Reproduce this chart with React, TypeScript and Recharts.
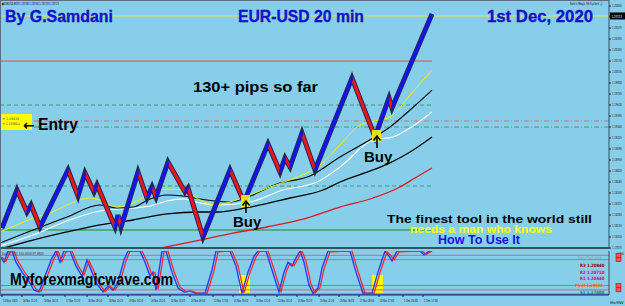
import React from 'react';
import { ComposedChart, Line, XAxis, YAxis, ReferenceLine, ReferenceDot, ReferenceArea } from 'recharts';

// ---------- price (zigzag / renko-like swings) ----------
const pivotBar = [2, 17, 27, 31, 40, 68, 78, 85, 94, 97, 115, 118, 121, 138, 147, 152, 156, 168, 185, 188, 203, 230, 244, 268, 280, 285, 290, 302, 315, 352, 375, 389, 392, 432];
const pivotPrice = [1.18121, 1.18587, 1.18317, 1.18403, 1.18133, 1.18833, 1.18514, 1.18796, 1.18563, 1.18649, 1.18133, 1.18280, 1.18133, 1.18808, 1.18489, 1.18624, 1.18501, 1.18931, 1.18563, 1.18612, 1.18010, 1.18833, 1.18440, 1.19152, 1.18808, 1.18980, 1.18869, 1.19287, 1.18833, 1.19962, 1.19238, 1.19716, 1.19594, 1.20747];

// ---------- moving averages ----------
const yellowBar = [0, 17, 33, 50, 67, 90, 100, 117, 133, 150, 167, 183, 200, 215, 230, 250, 270, 290, 300, 320, 340, 360, 375, 390, 410, 432];
const yellowPrice = [1.18072, 1.18158, 1.18243, 1.18305, 1.18403, 1.18489, 1.18464, 1.18378, 1.18428, 1.18538, 1.18599, 1.18587, 1.18464, 1.18403, 1.18440, 1.18526, 1.18624, 1.18710, 1.18759, 1.18894, 1.19139, 1.19385, 1.19434, 1.19483, 1.19753, 1.20060];

const blackUpBar = [0, 33, 67, 100, 117, 133, 150, 167, 183, 200, 215, 230, 250, 277, 310, 340, 373, 390, 410, 432];
const blackUpPrice = [1.17937, 1.18096, 1.18256, 1.18403, 1.18366, 1.18378, 1.18477, 1.18526, 1.18513, 1.18477, 1.18452, 1.18440, 1.18513, 1.18661, 1.18759, 1.18992, 1.19225, 1.19360, 1.19569, 1.19814];

const whiteBar = [0, 33, 67, 100, 133, 150, 167, 183, 200, 217, 250, 283, 317, 340, 373, 393, 410, 432];
const whitePrice = [1.17900, 1.18035, 1.18207, 1.18329, 1.18366, 1.18391, 1.18452, 1.18477, 1.18428, 1.18403, 1.18440, 1.18587, 1.18685, 1.18869, 1.19201, 1.19238, 1.19348, 1.19544];

const blackLowBar = [0, 33, 67, 100, 133, 167, 200, 217, 250, 290, 323, 340, 373, 390, 410, 432];
const blackLowPrice = [1.17863, 1.17973, 1.18072, 1.18158, 1.18219, 1.18293, 1.18317, 1.18317, 1.18378, 1.18489, 1.18587, 1.18685, 1.18833, 1.18919, 1.19053, 1.19238];

const redMaBar = [160, 200, 233, 267, 300, 340, 373, 398, 415, 432];
const redMaPrice = [1.17875, 1.17973, 1.18059, 1.18133, 1.18219, 1.18378, 1.18489, 1.18612, 1.18734, 1.18857];

// ---------- levels ----------
const currentPrice = 1.20723;
const levelToLastBar = [1.20170, 1.19630, 1.18636, 1.18096];
const levelFullWidth = [1.19434, 1.19360];
const lastBar = 432;

// ---------- buy signals ----------
const buyBar = [244, 375];
const buyPrice = [1.18440, 1.19238];

// ---------- axis ticks ----------
const priceTicks = [1.20845, 1.20710, 1.20575, 1.20440, 1.20305, 1.20170, 1.20035, 1.19900, 1.19765, 1.19630, 1.19495, 1.19360, 1.19225, 1.19090, 1.18955, 1.18820, 1.18685, 1.18550, 1.18415, 1.18280, 1.18145, 1.18010, 1.17875];
const timeTicks = [2, 22, 43, 65, 87, 108, 128, 150, 170, 190, 213, 233, 255, 277, 297, 319, 339, 359, 379, 403, 423];
const timeLabels = ['13 Nov 2020', '16 Nov 11:20', '16 Nov 18:20', '17 Nov 13:20', '18 Nov 09:20', '18 Nov 15:20', '19 Nov 10:20', '19 Nov 20:20', '20 Nov 10:20', '23 Nov 09:40', '23 Nov 17:00', '24 Nov 05:40', '24 Nov 13:20', '24 Nov 20:20', '25 Nov 10:20', '25 Nov 22:20', '26 Nov 16:00', '27 Nov 09:00', '30 Nov 17:00', '1 Dec 05:00', '1 Dec 17:00'];

// ---------- oscillator ----------
const oscBlueBar = [0, 4, 8, 12, 16, 22, 28, 34, 39, 45, 52, 56, 60, 64, 70, 76, 82, 87, 92, 97, 103, 108, 113, 118, 124, 128, 140, 145, 150, 153, 156, 162, 166, 172, 178, 184, 190, 196, 205, 212, 216, 230, 236, 242, 248, 254, 258, 266, 272, 279, 284, 288, 292, 296, 300, 304, 309, 313, 318, 322, 328, 350, 356, 363, 372, 378, 385, 389, 392, 397, 420, 424, 428, 432];
const oscBlue = [88, 74, 100, 100, 74, 51, 33, 9, 5, 42, 84, 100, 74, 100, 100, 65, 42, 79, 51, 23, 5, 19, 9, 28, 79, 100, 100, 74, 42, 51, 9, 100, 100, 51, 14, 5, 7, 2, 2, 56, 100, 100, 65, 2, 51, 88, 100, 100, 56, 5, 51, 74, 65, 84, 100, 74, 21, 2, 14, 60, 100, 100, 51, 2, 2, 51, 100, 88, 77, 100, 100, 91, 98, 100];
const oscRedBar = [2, 6, 10, 14, 18, 24, 30, 36, 41, 47, 54, 58, 62, 66, 72, 78, 84, 89, 94, 99, 105, 110, 115, 120, 126, 130, 142, 147, 152, 155, 158, 164, 168, 174, 180, 186, 192, 198, 207, 214, 218, 232, 238, 244, 250, 256, 260, 268, 274, 281, 286, 290, 294, 298, 302, 306, 311, 315, 320, 324, 330, 352, 358, 365, 374, 380, 387, 391, 394, 399, 422, 426, 430, 432];
const oscRed = [86, 76, 98, 100, 76, 53, 35, 11, 6, 40, 82, 100, 76, 98, 100, 66, 44, 77, 53, 25, 6, 18, 10, 27, 77, 100, 100, 76, 44, 50, 11, 98, 100, 53, 16, 6, 7, 2, 2, 54, 98, 100, 66, 3, 50, 86, 100, 100, 58, 6, 50, 72, 66, 82, 100, 76, 23, 3, 15, 58, 98, 100, 53, 2, 2, 50, 98, 89, 79, 98, 100, 92, 97, 100];
const oscLevels = [90, 80, 20, 10];
const oscHighlightBar = [[239, 250], [372, 383]];

// ---------- derived tables ----------
const series = (bars: number[], vals: number[]) => bars.map((b, i) => ({ bar: b, v: vals[i] }));
type ZRow = { bar: number; up?: number; down?: number };
const zigRows: ZRow[] = [];
for (let i = 0; i < pivotBar.length - 1; i++) {
  const key = pivotPrice[i + 1] > pivotPrice[i] ? 'up' : 'down';
  zigRows.push({ bar: pivotBar[i], [key]: pivotPrice[i] } as ZRow);
  zigRows.push({ bar: pivotBar[i + 1], [key]: pivotPrice[i + 1] } as ZRow);
}
const pivotRows = series(pivotBar, pivotPrice);

const SANS = 'Liberation Sans, Arial, sans-serif';
const TINY = 'DejaVu Sans, sans-serif';

// tiny text squeezed horizontally to a target width
const Tiny = ({ x, y, w, size, fill = '#111', weight = 'normal', children }: any) => {
  const s = String(children);
  const natural = s.length * 0.6 * size;
  const sx = Math.min(1, w / natural);
  return (
    <text transform={`translate(${x},${y}) scale(${sx.toFixed(3)},1)`} fontSize={size} fill={fill} fontWeight={weight} fontFamily={TINY}>
      {s}
    </text>
  );
};

const PriceTick = (props: any) => {
  const { x, y, payload } = props;
  const v = payload.value as number;
  if (v === currentPrice) {
    return (
      <g>
        <rect x={x - 2} y={y - 3.5} width={15} height={7} fill="#000" />
        <Tiny x={x - 0.5} y={y + 1.7} w={10.5} size={4.3} fill="#fff">{v.toFixed(5)}</Tiny>
      </g>
    );
  }
  return <Tiny x={x} y={y + 1.4} w={10} size={4.1} fill="#1a1a1a">{v.toFixed(5)}</Tiny>;
};

const TimeTick = (props: any) => {
  const { x, y, payload } = props;
  const i = timeTicks.indexOf(payload.value);
  return <Tiny x={x + 1} y={y + 3.5} w={15} size={4.2} fill="#111">{timeLabels[i]}</Tiny>;
};

const OscTick = (props: any) => {
  const { x, y, payload } = props;
  if (payload.value === 100) {
    return <Tiny x={x} y={y + 3.6} w={7} size={3.6}>100</Tiny>;
  }
  return <rect x={x - 1} y={y - 2} width={5} height={4} fill="#ff5050" stroke="#a00000" strokeWidth={0.5} />;
};

const BuyMarker = (props: any) => {
  const { cx, cy } = props;
  if (cx == null || cy == null) return null;
  return (
    <g>
      <rect x={cx - 3} y={cy - 7} width={9} height={12} fill="#ffff00" fillOpacity={0.85} />
      <line x1={cx + 2} y1={cy + 11} x2={cx + 2} y2={cy - 1} stroke="#000" strokeWidth={1.6} />
      <path d={`M${cx - 1.5},${cy + 3.5} L${cx + 2},${cy - 1} L${cx + 5.5},${cy + 3.5}`} fill="none" stroke="#000" strokeWidth={1.6} />
      <text x={cx - 11} y={cy + 25} fontSize={15} fontWeight="bold" fill="#000" fontFamily={SANS}>Buy</text>
    </g>
  );
};

const lineProps = { dot: false, activeDot: false, isAnimationActive: false } as const;

export default function App() {
  return (
    <div style={{ position: 'absolute', left: 0, top: 0, width: 625, height: 306, background: '#87ceeb', overflow: 'hidden' }}>
      <div style={{ position: 'absolute', left: 0, top: 0 }}>
        <ComposedChart width={625} height={251} margin={{ top: 0, right: 0, bottom: 2, left: 0 }}>
          <XAxis type="number" dataKey="bar" domain={[0, 609]} allowDataOverflow hide />
          <YAxis
            orientation="right"
            type="number"
            width={16}
            domain={[1.17863, 1.20919]}
            allowDataOverflow
            ticks={[...priceTicks, currentPrice]}
            interval={0}
            tick={<PriceTick />}
            tickSize={2}
            tickMargin={1}
            axisLine={{ stroke: '#3c4e5a' }}
            tickLine={{ stroke: '#222' }}
          />
          <ReferenceLine y={currentPrice} stroke="#e6e64a" strokeWidth={1} />
          <ReferenceLine segment={[{ x: 0, y: levelToLastBar[0] }, { x: lastBar, y: levelToLastBar[0] }]} stroke="#e0582c" strokeWidth={1} />
          <ReferenceLine segment={[{ x: 0, y: levelToLastBar[1] }, { x: lastBar, y: levelToLastBar[1] }]} stroke="#3f9a78" strokeDasharray="4 3" />
          <ReferenceLine segment={[{ x: 0, y: levelToLastBar[2] }, { x: lastBar, y: levelToLastBar[2] }]} stroke="#3f9a78" strokeDasharray="4 3" />
          <ReferenceLine segment={[{ x: 0, y: levelToLastBar[3] }, { x: lastBar, y: levelToLastBar[3] }]} stroke="#188a28" strokeWidth={1.2} />
          <ReferenceLine y={levelFullWidth[0]} stroke="#d86a6a" strokeDasharray="5 2 1 2" />
          <ReferenceLine y={levelFullWidth[1]} stroke="#3f9a78" strokeDasharray="5 2 1 2" />

          <Line data={series(redMaBar, redMaPrice)} dataKey="v" type="monotone" stroke="#e01818" strokeWidth={1.3} {...lineProps} />
          <Line data={series(blackLowBar, blackLowPrice)} dataKey="v" type="monotone" stroke="#000" strokeWidth={1.3} {...lineProps} />
          <Line data={series(whiteBar, whitePrice)} dataKey="v" type="monotone" stroke="#ffffff" strokeWidth={1.2} {...lineProps} />
          <Line data={series(blackUpBar, blackUpPrice)} dataKey="v" type="monotone" stroke="#000" strokeWidth={1.1} {...lineProps} />
          <Line data={series(yellowBar, yellowPrice)} dataKey="v" type="monotone" stroke="#f2f200" strokeWidth={1} {...lineProps} />

          <Line data={pivotRows} dataKey="v" type="linear" stroke="#22285a" strokeWidth={5} {...lineProps} />
          <Line data={zigRows} dataKey="down" type="linear" stroke="#f01414" strokeWidth={3} connectNulls={false} {...lineProps} />
          <Line data={zigRows} dataKey="up" type="linear" stroke="#1414f0" strokeWidth={3} connectNulls={false} {...lineProps} />

          {buyBar.map((b, i) => (
            <ReferenceDot key={b} x={b} y={buyPrice[i]} r={1} shape={<BuyMarker />} />
          ))}
        </ComposedChart>
      </div>

      <div style={{ position: 'absolute', left: 0, top: 249 }}>
        <ComposedChart width={625} height={57} margin={{ top: 2, right: 0, bottom: 0, left: 0 }}>
          <XAxis
            type="number"
            dataKey="bar"
            domain={[0, 609]}
            allowDataOverflow
            ticks={timeTicks}
            interval={0}
            tick={<TimeTick />}
            tickSize={2}
            tickMargin={1}
            height={11}
            axisLine={{ stroke: '#3c4e5a' }}
            tickLine={{ stroke: '#222' }}
          />
          <YAxis
            orientation="right"
            type="number"
            width={16}
            domain={[-2, 100]}
            allowDataOverflow
            ticks={[100, ...oscLevels]}
            interval={0}
            tick={<OscTick />}
            tickLine={false}
            tickMargin={2}
            axisLine={{ stroke: '#3c4e5a' }}
          />
          {oscHighlightBar.map(([a, b]) => (
            <ReferenceArea key={a} x1={a} x2={b} y1={3} y2={44} fill="#ffff00" fillOpacity={1} stroke="none" />
          ))}
          {oscLevels.map((l) => (
            <ReferenceLine key={l} y={l} stroke="#e86060" strokeWidth={1} />
          ))}
          <ReferenceLine y={-1} stroke="#2a48e8" strokeWidth={1.5} />
          <Line data={series(oscBlueBar, oscBlue)} dataKey="v" type="linear" stroke="#2a3cff" strokeWidth={1.4} {...lineProps} />
          <Line data={series(oscRedBar, oscRed)} dataKey="v" type="linear" stroke="#ff2020" strokeWidth={1.2} {...lineProps} />
        </ComposedChart>
      </div>

      <svg width={625} height={306} style={{ position: 'absolute', left: 0, top: 0, pointerEvents: 'none' }}>
        <rect x={0} y={247} width={609} height={2} fill="#3d4f5c" />
        <line x1={0.5} y1={0} x2={0.5} y2={296} stroke="#5a7080" />
        <line x1={0} y1={0.5} x2={609} y2={0.5} stroke="#5a7080" />

        <Tiny x={2} y={5} w={58} size={4.3} fill="#000">◆EURUSD,M20 1.20730 1.20740 1.20720 1.20723</Tiny>
        <Tiny x={570} y={4.5} w={34} size={4}>Sam's Magic 56 System ⓘ</Tiny>
        <Tiny x={2} y={254.5} w={46} size={4} fill="#333">Osc(14,3,3) 100.0000 97.8500</Tiny>

        <text x={5} y={22} fontSize={16} fontWeight="bold" fill="#1212e6" stroke="#0a0a90" strokeWidth={0.3} fontFamily={SANS} textLength={108} lengthAdjust="spacingAndGlyphs">By G.Samdani</text>
        <text x={238} y={22} fontSize={16} fontWeight="bold" fill="#1212e6" stroke="#0a0a90" strokeWidth={0.3} fontFamily={SANS} textLength={126} lengthAdjust="spacingAndGlyphs">EUR-USD 20 min</text>
        <text x={487} y={22} fontSize={16} fontWeight="bold" fill="#1212e6" stroke="#0a0a90" strokeWidth={0.3} fontFamily={SANS} textLength={106} lengthAdjust="spacingAndGlyphs">1st Dec, 2020</text>

        <text x={193} y={92} fontSize={15} fontWeight="bold" fill="#000" fontFamily={SANS} textLength={125} lengthAdjust="spacingAndGlyphs">130+ pips so far</text>

        <rect x={1} y={114} width={31} height={16} fill="#ffff00" />
        <Tiny x={2.5} y={119.5} w={17} size={3.4} fill="#444">≡ 1.19434</Tiny>
        <Tiny x={2.5} y={125} w={19} size={3.4} fill="#444">≡ 1.19360 ▸</Tiny>
        <text x={23} y={130} fontSize={14} fontWeight="bold" fill="#000" fontFamily={TINY}>←</text>
        <text x={38} y={130} fontSize={16} fontWeight="bold" fill="#000" fontFamily={SANS} textLength={40} lengthAdjust="spacingAndGlyphs">Entry</text>

        <text x={387} y={222.5} fontSize={11.5} fontWeight="bold" fill="#000" fontFamily={SANS} textLength={205} lengthAdjust="spacingAndGlyphs">The finest tool in the world still</text>
        <text x={410} y={233} fontSize={11} fontWeight="bold" fill="#ffff00" fontFamily={SANS} textLength={142} lengthAdjust="spacingAndGlyphs">needs a man who knows</text>
        <text x={438} y={243.5} fontSize={12} fontWeight="bold" fill="#1212e6" fontFamily={SANS} textLength={82} lengthAdjust="spacingAndGlyphs">How To Use It</text>

        <text x={10} y={285} fontSize={16} fontWeight="bold" fill="#000" fontFamily={SANS} textLength={163} lengthAdjust="spacingAndGlyphs">Myforexmagicwave.com</text>

        <Tiny x={578} y={259} w={28} size={4} fill="#b09090">Sam's Pivot Levels</Tiny>
        <Tiny x={580} y={267} w={23} size={4.5} fill="#8b0000" weight="bold">R3 1.20840</Tiny>
        <Tiny x={580} y={273.5} w={23} size={4.5} fill="#d0103a" weight="bold">R2 1.20710</Tiny>
        <Tiny x={580} y={280} w={23} size={4.5} fill="#d0103a" weight="bold">R1 1.20440</Tiny>
        <Tiny x={575} y={287} w={28} size={4.5} fill="#ff6a00" weight="bold">Pivot 1.20024</Tiny>
        <Tiny x={580} y={293.5} w={23} size={4.5} fill="#1a8a1a" weight="bold">S1 1.17400</Tiny>
        <Tiny x={610} y={304} w={13} size={3.8}>Ms/MW</Tiny>
      </svg>
    </div>
  );
}
